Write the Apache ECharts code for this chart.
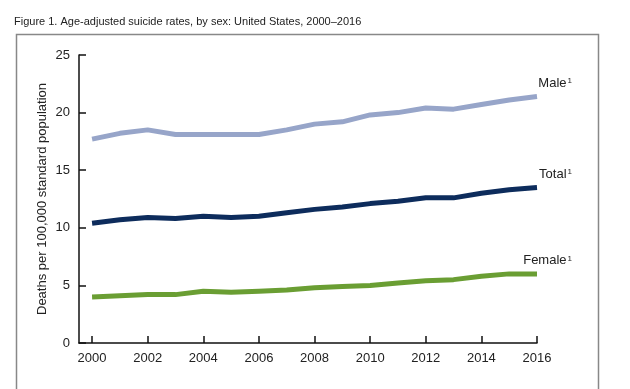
<!DOCTYPE html>
<html><head><meta charset="utf-8">
<script src="https://cdn.jsdelivr.net/npm/echarts@6/dist/echarts.min.js"></script>
<style>html,body{margin:0;padding:0;background:#fff}#c{width:630px;height:389px}</style>
</head><body><div id="c"></div>
<script>
const years = [2000,2001,2002,2003,2004,2005,2006,2007,2008,2009,2010,2011,2012,2013,2014,2015,2016];
const male = [17.7,18.2,18.5,18.1,18.1,18.1,18.1,18.5,19.0,19.2,19.8,20.0,20.4,20.3,20.7,21.1,21.4];
const total = [10.4,10.7,10.9,10.8,11.0,10.9,11.0,11.3,11.6,11.8,12.1,12.3,12.6,12.6,13.0,13.3,13.5];
const female = [4.0,4.1,4.2,4.2,4.5,4.4,4.5,4.6,4.8,4.9,5.0,5.2,5.4,5.5,5.8,6.0,6.0];
const xTicks = [2000,2002,2004,2006,2008,2010,2012,2014,2016];
const seriesNames = ['Male','Total','Female'];
const colors = ['#97A5C9','#0D2C5C','#6A9E33'];

const font = 'Liberation Sans, Arial, sans-serif';
function mk(name, vals, color){
  return {
    type:'line', name, data: vals.map((v,i)=>[years[i], v]),
    symbol:'none', smooth:false, lineStyle:{color, width:5}, itemStyle:{color},
    endLabel:{show:true, align:'right', verticalAlign:'middle', offset:[35,-13], distance:0,
      formatter: '{n|'+name+'}{s|1}',
      rich:{n:{fontSize:13,fontFamily:font,color:'#222'}, s:{fontSize:8,fontFamily:font,color:'#222',verticalAlign:'top',padding:[0,0,5,1]}}},
    emphasis:{disabled:true}, silent:true, z:3
  };
}
const chart = echarts.init(document.getElementById('c'));
chart.setOption({
  animation:false,
  graphic:[
    {type:'rect', shape:{x:16.5,y:34.5,width:582,height:400}, style:{fill:'none',stroke:'#888',lineWidth:1.5}, z:-1},
    {type:'text', left:14, top:16, style:{text:'Figure 1. Age-adjusted suicide rates, by sex: United States, 2000–2016', font:'11px '+font, fill:'#222'}}
  ],
  grid:{left:79, right:93, top:55, bottom:46},
  xAxis:{type:'value', min:1999.53, max:2016,
    axisLine:{show:true, lineStyle:{color:'#111', width:1.5}},
    axisTick:{show:true, inside:true, length:7, customValues:xTicks, lineStyle:{color:'#111',width:1.5}},
    axisLabel:{customValues:xTicks, formatter:v=>String(v), fontSize:13, fontFamily:font, color:'#222', margin:9},
    splitLine:{show:false}},
  yAxis:{type:'value', min:0, max:25, interval:5,
    name:'Deaths per 100,000 standard population', nameLocation:'middle', nameGap:30, nameMoveOverlap:false,
    nameTextStyle:{fontSize:13, fontFamily:font, color:'#222'},
    axisLine:{show:true, lineStyle:{color:'#111', width:1.5}},
    axisTick:{show:true, inside:true, length:7, lineStyle:{color:'#111',width:1.5}},
    axisLabel:{fontSize:13, fontFamily:font, color:'#222', margin:9},
    splitLine:{show:false}},
  series:[mk(seriesNames[0], male, colors[0]), mk(seriesNames[1], total, colors[1]), mk(seriesNames[2], female, colors[2])]
});
</script></body></html>
